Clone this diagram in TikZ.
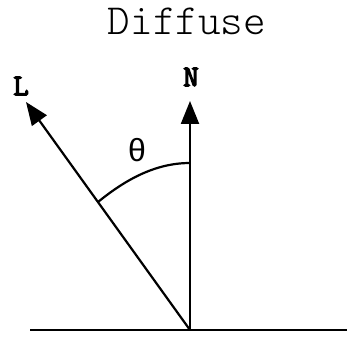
\documentclass[tikz,border=0pt]{standalone}
\usepackage{fontspec}
\newfontfamily\sansfam{Liberation Sans}
\newfontfamily\ttlight{Latin Modern Mono Light}
\newfontfamily\ttheavy[FakeBold=4]{Latin Modern Mono}
\usetikzlibrary{arrows.meta}
\tikzset{
  vec/.style={line width=2.2pt, -{Triangle[length=23pt,width=18pt]}},
  ground/.style={line width=2.2pt},
  anglearc/.style={line width=2.2pt},
  lbl/.style={inner sep=0pt, font=\ttheavy\fontsize{30}{30}\selectfont},
}
\begin{document}
\begin{tikzpicture}[x=1pt,y=-1pt]
\useasboundingbox (0,0) rectangle (347,355);
\fill[white] (0,0) rectangle (347,355);
\node[inner sep=0pt, font=\ttlight\fontsize{43}{43}\selectfont] (title) at (187,21) {Diffuse};
\coordinate (O) at (190,330);
\coordinate (GL) at (30,330);
\coordinate (GR) at (347,330);
\coordinate (Ntip) at (190,101);
\coordinate (Ltip) at (26,102);
\coordinate (A1) at (98,202);
\coordinate (A2) at (190,163);
\draw[ground] (GL) -- (GR);
\draw[vec] (O) -- (Ntip);
\draw[vec] (O) -- (Ltip);
\draw[anglearc] (A1) .. controls (125,180) and (155,163) .. (A2);
\node[lbl] (N) at (191,77) {N};
\node[lbl] (L) at (21,86) {L};
\node[inner sep=0pt, font=\sansfam\fontsize{32}{32}\selectfont] (theta) at (137,150) {θ};
\end{tikzpicture}
\end{document}
